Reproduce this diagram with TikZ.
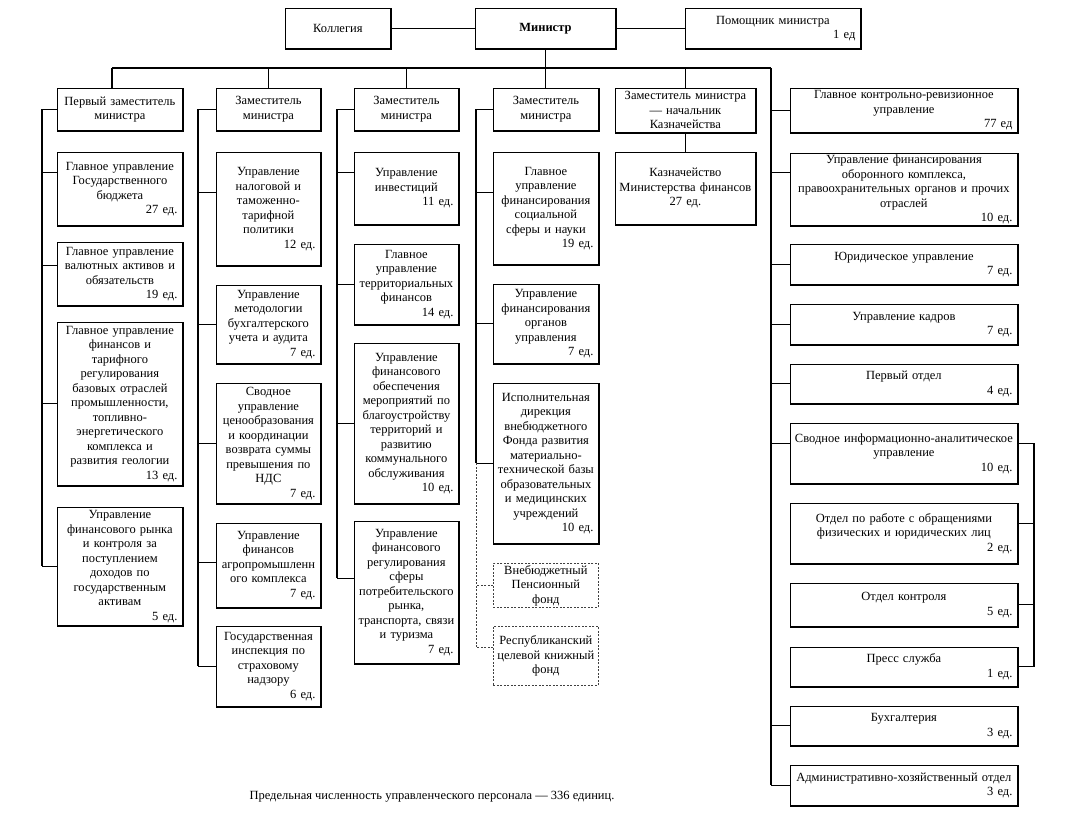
\documentclass[tikz,border=0pt]{standalone}
\usepackage{fontspec}
\setmainfont{Liberation Serif}
\usetikzlibrary{calc}
\hyphenpenalty=10000
\newcommand\fs{\fontsize{12.5}{14.5}\selectfont}
\newcommand\ed[1]{\\\hspace*{\fill}#1\rule{5pt}{0pt}}
\tikzset{
 ubox/.style={draw, line width=0.8pt, inner xsep=0pt, inner ysep=0pt, align=center, font=\fs, anchor=north west},
 dbox/.style={ubox, draw=black!75, line width=0.7pt, dash pattern=on 2pt off 1.5pt},
 conn/.style={line width=1.1pt},
 dconn/.style={line width=0.7pt, draw=black!75, dash pattern=on 2pt off 1.5pt},
 heavy/.style={line width=1.6pt},
}
\newcommand\obox[6]{%
 \pgfmathsetmacro\bw{#4-#2}\pgfmathsetmacro\bh{#5-#3}%
 \node[ubox, minimum width=\bw pt, minimum height=\bh pt, text width=\bw pt] (#1) at (#2,#3) {#6};
 \draw[heavy] (#1.south west) -- (#1.south east) -- (#1.north east);
}
\newcommand\odbox[6]{%
 \pgfmathsetmacro\bw{#4-#2}\pgfmathsetmacro\bh{#5-#3}%
 \node[dbox, minimum width=\bw pt, minimum height=\bh pt, text width=\bw pt] (#1) at (#2,#3) {#6};
}
\begin{document}
\begin{tikzpicture}[x=1pt,y=-1pt]
\useasboundingbox (0,0) rectangle (1084,815);
% top row
\obox{kol}{285}{8}{390}{48}{Коллегия}
\obox{min}{475}{8}{615}{48}{\textbf{Министр}}
\obox{pom}{685}{8}{860}{48}{Помощник министра\ed{1 ед}}
% column 1
\obox{c1h}{57}{88}{182}{130}{Первый заместитель\\министра}
\obox{c1a}{57}{152}{182}{225}{Главное управление\\Государственного\\бюджета\ed{27 ед.}}
\obox{c1b}{57}{242}{182}{305}{Главное управление\\валютных активов и\\обязательств\ed{19 ед.}}
\obox{c1c}{57}{322}{182}{485}{Главное управление\\финансов и\\тарифного\\регулирования\\базовых отраслей\\промышленности,\\топливно-\\энергетического\\комплекса и\\развития геологии\ed{13 ед.}}
\obox{c1d}{57}{507}{182}{625}{Управление\\финансового рынка\\и контроля за\\поступлением\\доходов по\\государственным\\активам\ed{5 ед.}}
% column 2
\obox{c2h}{216}{88}{320}{130}{Заместитель\\министра}
\obox{c2a}{216}{152}{320}{265}{Управление\\налоговой и\\таможенно-\\тарифной\\политики\ed{12 ед.}}
\obox{c2b}{216}{285}{320}{363}{Управление\\методологии\\бухгалтерского\\учета и аудита\ed{7 ед.}}
\obox{c2c}{216}{383}{320}{503}{Сводное\\управление\\ценообразования\\и координации\\возврата суммы\\превышения по\\НДС\ed{7 ед.}}
\obox{c2d}{216}{523}{320}{607}{Управление\\финансов\\агропромышленн\\ого комплекса\ed{7 ед.}}
\obox{c2e}{216}{626}{320}{706}{Государственная\\инспекция по\\страховому\\надзору\ed{6 ед.}}
% column 3
\obox{c3h}{354}{88}{458}{130}{Заместитель\\министра}
\obox{c3a}{354}{152}{458}{224}{Управление\\инвестиций\ed{11 ед.}}
\obox{c3b}{354}{244}{458}{324}{Главное\\управление\\территориальных\\финансов\ed{14 ед.}}
\obox{c3c}{354}{343}{458}{503}{Управление\\финансового\\обеспечения\\мероприятий по\\благоустройству\\территорий и\\развитию\\коммунального\\обслуживания\ed{10 ед.}}
\obox{c3d}{354}{521}{458}{663}{Управление\\финансового\\регулирования\\сферы\\потребительского\\рынка,\\транспорта, связи\\и туризма\ed{7 ед.}}
% column 4
\obox{c4h}{493}{88}{598}{130}{Заместитель\\министра}
\obox{c4a}{493}{152}{598}{264}{Главное\\управление\\финансирования\\социальной\\сферы и науки\ed{19 ед.}}
\obox{c4b}{493}{284}{598}{363}{Управление\\финансирования\\органов\\управления\ed{7 ед.}}
\obox{c4c}{493}{383}{598}{543}{Исполнительная\\дирекция\\внебюджетного\\Фонда развития\\материально-\\технической базы\\образовательных\\и медицинских\\учреждений\ed{10 ед.}}
\odbox{c4d}{493}{563}{598}{607}{Внебюджетный\\Пенсионный\\фонд}
\odbox{c4e}{493}{626}{598}{685}{Республиканский\\целевой книжный\\фонд}
% column 5
\obox{c5h}{615}{88}{755}{132}{Заместитель министра\\— начальник\\Казначейства}
\obox{c5a}{615}{152}{755}{224}{Казначейство\\Министерства финансов\\27 ед.}
% column 6
\obox{c6a}{790}{88}{1017}{132}{Главное контрольно-ревизионное\\управление\ed{77 ед}}
\obox{c6b}{790}{153}{1017}{225}{Управление финансирования\\оборонного комплекса,\\правоохранительных органов и прочих\\отраслей\ed{10 ед.}}
\obox{c6c}{790}{244}{1017}{284}{Юридическое управление\ed{7 ед.}}
\obox{c6d}{790}{304}{1017}{344}{Управление кадров\ed{7 ед.}}
\obox{c6e}{790}{364}{1017}{403}{Первый отдел\ed{4 ед.}}
\obox{c6f}{790}{423}{1017}{483}{Сводное информационно-аналитическое\\управление\ed{10 ед.}}
\obox{c6g}{790}{503}{1017}{563}{Отдел по работе с обращениями\\физических и юридических лиц\ed{2 ед.}}
\obox{c6h}{790}{583}{1017}{626}{Отдел контроля\ed{5 ед.}}
\obox{c6i}{790}{647}{1017}{686}{Пресс служба\ed{1 ед.}}
\obox{c6j}{790}{706}{1017}{745}{Бухгалтерия\ed{3 ед.}}
\obox{c6k}{790}{765}{1017}{805}{Административно-хозяйственный отдел\ed{3 ед.}}
% footer
\node[font=\fs] (foot) at (432,797) {Предельная численность управленческого персонала — 336 единиц.};
% top connectors
\draw[conn] (kol.east) -- (min.west);
\draw[conn] (min.east) -- (pom.west);
\coordinate (b1) at (112,68);
\coordinate (b6) at (771,68);
\draw[conn] (min.south) -- (min.south |- b1);
\draw[conn] (b1) -- (b6);
\draw[conn] (b1) -- (b1 |- c1h.north);
\foreach \h in {c2h,c3h,c4h,c5h} \draw[conn] (\h.north |- b1) -- (\h.north);
\draw[conn] (c5h.south) -- (c5a.north);
% spines
\coordinate (s1) at (42,0);
\coordinate (s2) at (198,0);
\coordinate (s3) at (337,0);
\coordinate (s4) at (476,0);
\coordinate (s6) at (771,0);
\coordinate (s7) at (1034,0);
\foreach \n/\d in {c1h/0,c1a/16,c1b/8,c1c/0,c1d/0,
                   c2h/0,c2a/16,c2b/0,c2c/0,c2d/3,c2e/0,
                   c3h/0,c3a/16,c3b/0,c3c/0,c3d/14,
                   c4h/0,c4a/16,c4b/0,c4c/0,
                   c6a/0,c6b/17,c6c/0,c6d/0,c6e/0,c6f/10,c6j/0,c6k/0}
  \coordinate (t\n) at ($(\n.west)+(0,-\d)$);
\foreach \n/\d in {c4d/0,c4e/9}
  \coordinate (t\n) at ($(\n.west)+(0,-\d)$);
\foreach \n/\d in {c6f/10,c6g/10,c6h/0,c6i/0}
  \coordinate (r\n) at ($(\n.east)+(0,-\d)$);
\foreach \n in {c1h,c1a,c1b,c1c,c1d} \draw[conn] (t\n) -- (t\n -| s1);
\foreach \n in {c2h,c2a,c2b,c2c,c2d,c2e} \draw[conn] (t\n) -- (t\n -| s2);
\foreach \n in {c3h,c3a,c3b,c3c,c3d} \draw[conn] (t\n) -- (t\n -| s3);
\foreach \n in {c4h,c4a,c4b,c4c} \draw[conn] (t\n) -- (t\n -| s4);
\foreach \n in {c6a,c6b,c6c,c6d,c6e,c6f,c6j,c6k} \draw[conn] (t\n) -- (t\n -| s6);
\foreach \n in {c6f,c6g,c6h,c6i} \draw[conn] (r\n) -- (r\n -| s7);
\draw[conn] (tc1h -| s1) -- (tc1d -| s1);
\draw[conn] (tc2h -| s2) -- (tc2e -| s2);
\draw[conn] (tc3h -| s3) -- (tc3d -| s3);
\draw[conn] (tc4h -| s4) -- (tc4c -| s4);
\draw[dconn] (tc4c -| s4) -- (tc4e -| s4);
\draw[dconn] (tc4d) -- (tc4d -| s4);
\draw[dconn] (tc4e) -- (tc4e -| s4);
\draw[conn] (b6) -- (tc6k -| s6);
\draw[conn] (rc6f -| s7) -- (rc6i -| s7);
\end{tikzpicture}
\end{document}
